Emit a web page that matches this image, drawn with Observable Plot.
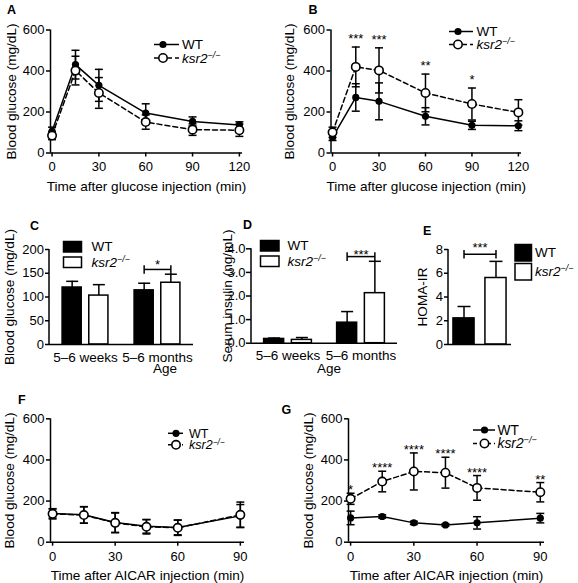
<!DOCTYPE html>
<html><head><meta charset="utf-8">
<script src="https://cdn.jsdelivr.net/npm/d3@7"></script>
<script src="https://cdn.jsdelivr.net/npm/@observablehq/plot@0.6"></script>
<style>
body{margin:0;background:#fff;}
#root{position:relative;width:578px;height:583px;overflow:hidden;background:#fff;font-family:"Liberation Sans",Arial,Helvetica,sans-serif;}
#root svg g[aria-label$="tick"]{stroke-width:1.5px;}
#root svg g[aria-label$="tick label"]{font-size:13px;}
#root svg g[aria-label="fx-axis tick label"]{font-size:13.5px;}
#root svg g[aria-label$="axis label"]{font-size:13.6px;}
</style></head><body><div id="root"></div>
<script>
const FONT = '"Liberation Sans", Arial, Helvetica, sans-serif';

// ---------- Panels A & B: glucose tolerance test ----------
const timeGTT = [0, 15, 30, 60, 90, 120];
const gttA_WT = [106, 431, 330, 195, 154, 137];
const gttA_WT_sd = [20, 70, 78, 45, 22, 15];
const gttA_KO = [85, 402, 293, 151, 114, 111];
const gttA_KO_sd = [20, 70, 75, 35, 28, 30];

const gttB_WT = [76, 271, 252, 179, 135, 133];
const gttB_WT_sd = [15, 67, 90, 42, 20, 24];
const gttB_KO = [101, 420, 403, 293, 239, 198];
const gttB_KO_sd = [25, 97, 110, 92, 78, 62];
const starsB_time = [15, 30, 60, 90];
const starsB_label = ["***", "***", "**", "*"];

// ---------- Panels F & G: AICAR ----------
const timeAICAR = [0, 15, 30, 45, 60, 90];
const aicF_WT = [140, 133, 96, 77, 72, 128];
const aicF_WT_sd = [22, 40, 48, 33, 36, 55];
const aicF_KO = [138, 132, 94, 75, 70, 133];
const aicF_KO_sd = [25, 40, 48, 35, 37, 62];

const aicG_WT = [118, 125, 94, 84, 94, 117];
const aicG_WT_sd = [33, 8, 8, 6, 30, 23];
const aicG_KO = [211, 295, 344, 338, 264, 243];
const aicG_KO_sd = [27, 50, 90, 75, 60, 47];
const starsG_time = [0, 15, 30, 45, 60, 90];
const starsG_label = ["*", "****", "****", "****", "****", "**"];

// ---------- Panels C, D, E: bars ----------
const ages = ["5–6 weeks", "5–6 months"];
const genotypes = ["WT", "ksr2"];
const glucC_WT = [120, 114];
const glucC_WT_sd = [13, 15];
const glucC_KO = [103, 130];
const glucC_KO_sd = [23, 18];

const insD_WT = [0.18, 0.87];
const insD_WT_sd = [0.04, 0.47];
const insD_KO = [0.14, 2.12];
const insD_KO_sd = [0.1, 1.35];

const homaE_WT = [2.2];
const homaE_WT_sd = [1.0];
const homaE_KO = [5.6];
const homaE_KO_sd = [1.4];

const sigC = [{age: "5–6 months", from: "WT", to: "ksr2", y: 158, label: "*"}];
const sigD = [{age: "5–6 months", from: "WT", to: "ksr2", y: 3.67, label: "***"}];
const sigE = [{from: "WT", to: "ksr2", y: 7.6, label: "***"}];

// ---------- helpers ----------
const capH = {draw(ctx, size) { const r = Math.sqrt(size / Math.PI); ctx.moveTo(-r, 0); ctx.lineTo(r, 0); }};
const capV = {draw(ctx, size) { const r = Math.sqrt(size / Math.PI); ctx.moveTo(0, -r); ctx.lineTo(0, r); }};
const baseStyle = {fontFamily: FONT, fontSize: "13px", color: "black", background: "transparent", overflow: "visible"};
const root = document.getElementById("root");
function place(node, left, top) {
  node.style.position = "absolute"; node.style.left = left + "px"; node.style.top = top + "px";
  root.appendChild(node);
}
const rows = (t, m, s) => t.map((x, i) => ({t: x, m: m[i], lo: m[i] - s[i], hi: m[i] + s[i]}));

function series(d, ko) {
  const sw = 1.5;
  const dash = ko ? {strokeDasharray: "5,3"} : {};
  return [
    Plot.ruleX(d, {x: "t", y1: "lo", y2: "hi", strokeWidth: sw}),
    Plot.dot(d, {x: "t", y: "lo", symbol: capH, r: 4, stroke: "black", fill: "none", strokeWidth: sw}),
    Plot.dot(d, {x: "t", y: "hi", symbol: capH, r: 4, stroke: "black", fill: "none", strokeWidth: sw}),
    Plot.line(d, {x: "t", y: "m", strokeWidth: sw, ...dash}),
    ko ? Plot.dot(d, {x: "t", y: "m", r: 4.2, fill: "white", stroke: "black", strokeWidth: 1.6})
       : Plot.dot(d, {x: "t", y: "m", r: 3.6, fill: "black", stroke: "none"})
  ];
}

function linePanel(o) {
  const wt = rows(o.time, o.wt, o.wtSd), ko = rows(o.time, o.ko, o.koSd);
  const stars = (o.starTimes || []).map((t, i) => ({t, label: o.starLabels[i], hi: ko[o.time.indexOf(t)].hi}));
  const chart = Plot.plot({
    width: o.width, height: o.height,
    marginLeft: o.ml, marginRight: o.mr, marginTop: o.mt, marginBottom: o.mb,
    style: baseStyle,
    x: {domain: o.xDomain, ticks: o.xTicks, tickSize: 4, tickPadding: o.xPad, label: o.xLabel,
        labelAnchor: "center", labelOffset: o.xLabelOffset, labelArrow: "none"},
    y: {domain: [0, 600], ticks: [0, 200, 400, 600], tickSize: 4, tickPadding: 2,
        label: "Blood glucose (mg/dL)", labelAnchor: "center", labelOffset: o.yLabelOffset, labelArrow: "none"},
    marks: [
      Plot.ruleY([0], {strokeWidth: 1.5}),
      Plot.ruleX([o.xDomain[0]], {strokeWidth: 1.5}),
      ...series(wt, false),
      ...series(ko, true),
      Plot.text(stars, {x: "t", y: "hi", text: "label", lineAnchor: "top", dy: o.starDy, fontSize: 13})
    ]
  });
  place(chart, o.left, o.top);
}

function addYAxisLine(chart, x, yDomain) {
  const y = chart.scale("y");
  d3.select(chart).append("line")
    .attr("x1", x).attr("x2", x)
    .attr("y1", y.apply(yDomain[0])).attr("y2", y.apply(yDomain[1]))
    .attr("stroke", "black").attr("stroke-width", 1.5);
}

function barFacetPanel(o) {
  const wt = ages.map((a, i) => ({age: a, geno: "WT", m: o.wt[i], hi: o.wt[i] + o.wtSd[i]}));
  const ko = ages.map((a, i) => ({age: a, geno: "ksr2", m: o.ko[i], hi: o.ko[i] + o.koSd[i]}));
  const all = wt.concat(ko);
  const chart = Plot.plot({
    width: o.width, height: o.height,
    marginLeft: o.ml, marginRight: o.mr, marginTop: o.mt, marginBottom: o.mb,
    style: baseStyle,
    fx: {domain: ages, padding: 0, round: false, axis: "bottom", tickSize: 0, tickPadding: 7.5, label: null},
    x: {domain: genotypes, paddingInner: o.pi, paddingOuter: o.po, round: false, axis: null},
    y: {domain: o.yDomain, ticks: o.yTicks, tickSize: o.tickSize, tickPadding: o.tickPad, label: o.yLabel,
        labelAnchor: "center", labelOffset: o.yLabelOffset, labelArrow: "none"},
    marks: [
      Plot.ruleX(all, {fx: "age", x: "geno", y1: "m", y2: "hi", strokeWidth: 1.5}),
      Plot.dot(all, {fx: "age", x: "geno", y: "hi", symbol: capH, r: 6, stroke: "black", fill: "none", strokeWidth: 1.5}),
      Plot.barY(wt, {fx: "age", x: "geno", y: "m", fill: "black", stroke: "black", strokeWidth: 1.5}),
      Plot.barY(ko, {fx: "age", x: "geno", y: "m", fill: "white", stroke: "black", strokeWidth: 1.5}),
      Plot.ruleY([0], {strokeWidth: 1.5}),
      Plot.link(o.sig, {fx: "age", x1: "from", x2: "to", y1: "y", y2: "y", strokeWidth: 1.5}),
      Plot.dot(o.sig, {fx: "age", x: "from", y: "y", symbol: capV, r: 4.3, stroke: "black", fill: "none", strokeWidth: 1.5}),
      Plot.dot(o.sig, {fx: "age", x: "to", y: "y", symbol: capV, r: 4.3, stroke: "black", fill: "none", strokeWidth: 1.5}),
      Plot.text(o.sig, {fx: "age", y: "y", text: "label", lineAnchor: "top", dy: o.sigDy, fontSize: 13})
    ]
  });
  addYAxisLine(chart, o.ml, o.yDomain);
  place(chart, o.left, o.top);
}

function barSimplePanel(o) {
  const wt = [{geno: "WT", m: o.wt[0], hi: o.wt[0] + o.wtSd[0]}];
  const ko = [{geno: "ksr2", m: o.ko[0], hi: o.ko[0] + o.koSd[0]}];
  const all = wt.concat(ko);
  const chart = Plot.plot({
    width: o.width, height: o.height,
    marginLeft: o.ml, marginRight: o.mr, marginTop: o.mt, marginBottom: o.mb,
    style: baseStyle,
    x: {domain: genotypes, paddingInner: o.pi, paddingOuter: o.po, round: false, axis: null},
    y: {domain: o.yDomain, ticks: o.yTicks, tickSize: o.tickSize, tickPadding: o.tickPad, label: o.yLabel,
        labelAnchor: "center", labelOffset: o.yLabelOffset, labelArrow: "none"},
    marks: [
      Plot.ruleX(all, {x: "geno", y1: "m", y2: "hi", strokeWidth: 1.5}),
      Plot.dot(all, {x: "geno", y: "hi", symbol: capH, r: 6.5, stroke: "black", fill: "none", strokeWidth: 1.5}),
      Plot.barY(wt, {x: "geno", y: "m", fill: "black", stroke: "black", strokeWidth: 1.5}),
      Plot.barY(ko, {x: "geno", y: "m", fill: "white", stroke: "black", strokeWidth: 1.5}),
      Plot.ruleY([0], {strokeWidth: 1.5}),
      Plot.link(o.sig, {x1: "from", x2: "to", y1: "y", y2: "y", strokeWidth: 1.5}),
      Plot.dot(o.sig, {x: "from", y: "y", symbol: capV, r: 4.3, stroke: "black", fill: "none", strokeWidth: 1.5}),
      Plot.dot(o.sig, {x: "to", y: "y", symbol: capV, r: 4.3, stroke: "black", fill: "none", strokeWidth: 1.5}),
      Plot.text(o.sig, {y: "y", text: "label", lineAnchor: "top", dy: o.sigDy, fontSize: 13})
    ]
  });
  addYAxisLine(chart, o.ml, o.yDomain);
  place(chart, o.left, o.top);
}

// ---------- build panels ----------
linePanel({left: 0, top: 0, width: 278, height: 195, ml: 50, mr: 36, mt: 29.5, mb: 42.5,
  time: timeGTT, wt: gttA_WT, wtSd: gttA_WT_sd, ko: gttA_KO, koSd: gttA_KO_sd,
  xDomain: [-1, 122], xTicks: [0, 30, 60, 90, 120], xPad: 5, xLabel: "Time after glucose injection (min)",
  xLabelOffset: 37.8, yLabelOffset: 44});

linePanel({left: 278, top: 0, width: 300, height: 195, ml: 52.5, mr: 57, mt: 29.5, mb: 42.5,
  time: timeGTT, wt: gttB_WT, wtSd: gttB_WT_sd, ko: gttB_KO, koSd: gttB_KO_sd,
  xDomain: [-1, 122], xTicks: [0, 30, 60, 90, 120], xPad: 5, xLabel: "Time after glucose injection (min)",
  xLabelOffset: 37.8, yLabelOffset: 46.5, starTimes: starsB_time, starLabels: starsB_label, starDy: -13});

barFacetPanel({left: 0, top: 195, width: 200, height: 190, ml: 49, mr: 7, mt: 54, mb: 41,
  wt: glucC_WT, wtSd: glucC_WT_sd, ko: glucC_KO, koSd: glucC_KO_sd,
  pi: 0.283, po: 0.49, yDomain: [0, 200], yTicks: [0, 50, 100, 150, 200], tickSize: 4, tickPad: 1.5,
  yLabel: "Blood glucose (mg/dL)", yLabelOffset: 45, sig: sigC, sigDy: -9.5});

barFacetPanel({left: 200, top: 195, width: 200, height: 190, ml: 51, mr: 3, mt: 53.3, mb: 42.3,
  wt: insD_WT, wtSd: insD_WT_sd, ko: insD_KO, koSd: insD_KO_sd,
  pi: 0.279, po: 0.455, yDomain: [0, 4], yTicks: [0, 1, 2, 3, 4], tickSize: 5, tickPad: 1,
  yLabel: "Serum insulin (ng/mL)", yLabelOffset: 29.3, sig: sigD, sigDy: -6.5});

barSimplePanel({left: 400, top: 195, width: 178, height: 190, ml: 48, mr: 67, mt: 54, mb: 41,
  wt: homaE_WT, wtSd: homaE_WT_sd, ko: homaE_KO, koSd: homaE_KO_sd,
  pi: 0.34, po: 0.155, yDomain: [0, 8], yTicks: [0, 2, 4, 6, 8], tickSize: 4, tickPad: 1.5,
  yLabel: "HOMA-IR", yLabelOffset: 30.7, sig: sigE, sigDy: -11.5});

linePanel({left: 0, top: 385, width: 278, height: 198, ml: 50, mr: 34, mt: 33.3, mb: 41.3,
  time: timeAICAR, wt: aicF_WT, wtSd: aicF_WT_sd, ko: aicF_KO, koSd: aicF_KO_sd,
  xDomain: [-1, 92], xTicks: [0, 30, 60, 90], xPad: 6, xLabel: "Time after AICAR injection (min)",
  xLabelOffset: 38, yLabelOffset: 46});

linePanel({left: 278, top: 385, width: 300, height: 198, ml: 70, mr: 34, mt: 33.3, mb: 41.3,
  time: timeAICAR, wt: aicG_WT, wtSd: aicG_WT_sd, ko: aicG_KO, koSd: aicG_KO_sd,
  xDomain: [-1, 92], xTicks: [0, 30, 60, 90], xPad: 6, xLabel: "Time after AICAR injection (min)",
  xLabelOffset: 38, yLabelOffset: 45, starTimes: starsG_time, starLabels: starsG_label, starDy: -8});

// ---------- overlay: panel letters, legends, extra titles ----------
const ov = d3.select(root).append("svg")
  .attr("width", 578).attr("height", 583)
  .style("position", "absolute").style("left", "0px").style("top", "0px")
  .style("pointer-events", "none")
  .attr("font-family", FONT);

const letters = [["A", 7, 13.5], ["B", 308.5, 13.5], ["C", 30, 230], ["D", 243, 228.5],
                 ["E", 423, 234.5], ["F", 18, 403.5], ["G", 281.5, 413.5]];
letters.forEach(([t, x, y]) => ov.append("text").attr("x", x).attr("y", y)
  .attr("font-size", 12.5).attr("font-weight", "bold").text(t));

function koLabel(sel, fs) {
  sel.append("tspan").attr("font-style", "italic").text("ksr2");
  sel.append("tspan").attr("font-style", "italic").attr("font-size", fs * 0.66).attr("dy", -fs * 0.37).text("−/−");
}

function lineLegend(x0, x1, xm, xt, yWT, yKO, fs) {
  const g = ov.append("g");
  g.append("line").attr("x1", x0).attr("x2", x1).attr("y1", yWT).attr("y2", yWT)
    .attr("stroke", "black").attr("stroke-width", 1.5);
  g.append("circle").attr("cx", xm).attr("cy", yWT).attr("r", 3.6).attr("fill", "black");
  g.append("line").attr("x1", x0).attr("x2", x1).attr("y1", yKO).attr("y2", yKO)
    .attr("stroke", "black").attr("stroke-width", 1.5).attr("stroke-dasharray", "4,3");
  g.append("circle").attr("cx", xm).attr("cy", yKO).attr("r", 4.2).attr("fill", "white")
    .attr("stroke", "black").attr("stroke-width", 1.6);
  g.append("text").attr("x", xt).attr("y", yWT + fs * 0.35).attr("font-size", fs).text("WT");
  g.append("text").attr("x", xt).attr("y", yKO + fs * 0.35).attr("font-size", fs).call(koLabel, fs);
}
lineLegend(154, 179, 163, 182, 44.5, 58, 13.5);
lineLegend(449, 473, 458, 476.5, 31.5, 44.5, 13.5);
lineLegend(168, 183, 176, 189, 433.3, 444.8, 12.5);
lineLegend(473, 495, 484.5, 497.5, 430, 443.5, 13.8);

function barLegend(x, w, yB, yW, h, xt) {
  const g = ov.append("g");
  g.append("rect").attr("x", x).attr("y", yB).attr("width", w).attr("height", h)
    .attr("fill", "black").attr("stroke", "black").attr("stroke-width", 1.5);
  g.append("rect").attr("x", x).attr("y", yW).attr("width", w).attr("height", h)
    .attr("fill", "white").attr("stroke", "black").attr("stroke-width", 1.5);
  g.append("text").attr("x", xt).attr("y", yB + h / 2 + 4.7).attr("font-size", 13.5).text("WT");
  g.append("text").attr("x", xt).attr("y", yW + h / 2 + 4.7).attr("font-size", 13.5).call(koLabel, 13.5);
}
barLegend(63.5, 18, 241.5, 257, 10.5, 91.5);
barLegend(260.5, 18.5, 240.5, 256, 10.5, 287.5);
barLegend(515, 16.5, 244.5, 263.5, 16.5, 535);

[[165, 372.5], [329, 372.5]].forEach(([x, y]) => ov.append("text").attr("x", x).attr("y", y)
  .attr("font-size", 13.5).attr("text-anchor", "middle").text("Age"));
</script></body></html>
